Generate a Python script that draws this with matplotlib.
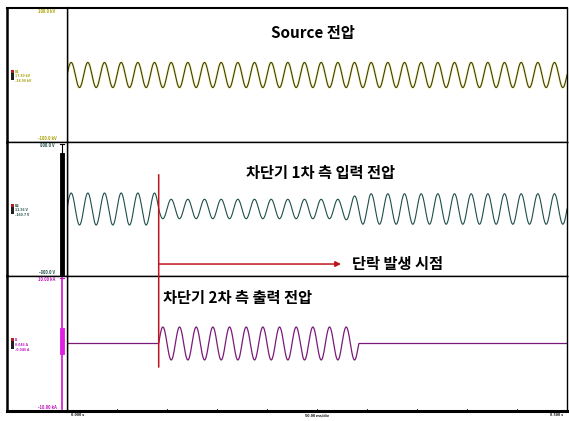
import numpy as np
import matplotlib
matplotlib.use("Agg")
import matplotlib.pyplot as plt
from matplotlib.patches import ConnectionPatch

plt.rcParams['font.family'] = ['Noto Sans CJK KR', 'DejaVu Sans']

# 파형 데이터 (60 Hz, 0 ~ 0.5 s)
freq = 60.0
t_end = 0.5
t_fault = 0.0917      # 단락 발생 시점 [s]
t_open = 0.2917       # 차단기 개방 시점 [s]

src_peak = 18.7       # Source 전압 피크 [kV]
in_env_t = [0.0, t_fault, t_fault, 0.275, 0.296, t_end]   # 1차 측 입력 전압 포락선 [s]
in_env_v = [191.0, 191.0, 116.0, 116.0, 182.0, 182.0]      # [V]
out_peak = 2.44       # 2차 측 출력 피크 [kA]

panel_titles = ["Source 전압", "차단기 1차 측 입력 전압", "차단기 2차 측 출력 전압"]
fault_label = "단락 발생 시점"
scale_top = ["100.0 kV", "800.0 V", "10.00 kA"]
scale_bot = ["-100.0 kV", "-800.0 V", "-10.00 kA"]
ylims = [100.0, 800.0, 10.0]
meas_text = [["B1", "17.89 kV", "-18.90 kV"],
             ["B2", "11.56 V", "-160.7 V"],
             ["I1", "0.046 A", "-0.046 A"]]
time_labels = ["0.000 s", "50.00 ms/div", "0.500 s"]

W, H = 569, 421


def box(x0, y0, x1, y1):
    return [x0 / W, 1 - y1 / H, (x1 - x0) / W, (y1 - y0) / H]


t = np.linspace(0, t_end, 6000)
w = 2 * np.pi * freq
v_src = src_peak * np.sin(w * t)
v_in = np.interp(t, in_env_t, in_env_v) * np.sin(w * t)
i_out = np.where((t >= t_fault) & (t <= t_open), out_peak * np.sin(w * (t - t_fault)), 0.0)

fig = plt.figure(figsize=(W / 100, H / 100), dpi=100)

rows = [(8, 142), (142, 276), (276, 411)]
axes = []
laxes = []
for (y0, y1), lim in zip(rows, ylims):
    ax = fig.add_axes(box(67, y0, 567, y1))
    ax.set_xlim(0, t_end)
    ax.set_ylim(-lim, lim)
    ax.set_xticks([])
    ax.set_yticks([])
    for s in ax.spines.values():
        s.set_linewidth(1.0)
    axes.append(ax)
    lax = fig.add_axes(box(7, y0, 67, y1))
    lax.set_xlim(0, 60)
    lax.set_ylim(-lim, lim)
    lax.set_xticks([])
    lax.set_yticks([])
    for s in lax.spines.values():
        s.set_linewidth(1.0)
    lax.spines['left'].set_linewidth(1.8)
    laxes.append(lax)
laxes[2].spines['bottom'].set_linewidth(2.2)
axes[2].spines['bottom'].set_linewidth(2.2)
axes[0].spines['top'].set_linewidth(1.5)
laxes[0].spines['top'].set_linewidth(1.5)

ax1, ax2, ax3 = axes

# Source 전압 (노란 테두리)
ax1.plot(t, v_src, color='#f4f080', lw=2.0, alpha=0.55, solid_capstyle='round')
ax1.plot(t, v_src, color='#3c3c14', lw=0.8)
ax2.plot(t, v_in, color='#1e4e48', lw=0.8)
ax3.plot(t, i_out, color='#7a1a78', lw=0.9)

title_kw = dict(fontsize=11, fontweight='bold', color='black')
ax1.text(0.246, 62.7, panel_titles[0], ha='center', va='center', **title_kw)
ax2.text(0.254, 430, panel_titles[1], ha='center', va='center', **title_kw)
ax3.text(0.096, 6.74, panel_titles[2], ha='left', va='center', **title_kw)

# 단락 발생 시점 표시
red = '#c0141c'
con = ConnectionPatch(xyA=(t_fault, 410), coordsA=ax2.transData,
                      xyB=(t_fault, -3.5), coordsB=ax3.transData,
                      color=red, lw=1.1)
fig.add_artist(con)
ax2.annotate('', xy=(0.274, -657), xytext=(t_fault, -657),
             arrowprops=dict(arrowstyle='-|>', color=red, lw=1.1,
                             mutation_scale=8, shrinkA=0, shrinkB=0))
ax2.text(0.285, -657, fault_label, ha='left', va='center', **title_kw)

# 좌측 스케일 영역
scale_cols = ['#a8a000', '#1e4e48', '#c010c0']
for lax, lim, top, bot, col, meas in zip(laxes, ylims, scale_top, scale_bot, scale_cols, meas_text):
    lax.text(40, lim * 0.95, top, fontsize=3, fontweight='bold', color=col, ha='center', va='center')
    lax.text(40, -lim * 0.95, bot, fontsize=3, fontweight='bold', color=col, ha='center', va='center')
    lax.bar(5, lim * 0.16, width=3, bottom=-lim * 0.08, color='#202020')
    lax.bar(5, lim * 0.05, width=3, bottom=lim * 0.03, color='#b02020')
    for k, s in enumerate(meas):
        lax.text(8, lim * (0.05 - 0.07 * k), s, fontsize=2.6, fontweight='bold',
                 color=col, ha='left', va='center')

# 1차 측 스케일 바
laxes[1].plot([55, 55], [-780, 780], color='black', lw=0.8)
laxes[1].plot([55, 55], [-760, 640], color='black', lw=3.5)
laxes[1].plot([53, 57], [780, 780], color='black', lw=0.8)
# 2차 측 스케일 바
laxes[2].plot([55, 55], [-9.7, 9.7], color='#d010d0', lw=1.2)
laxes[2].plot([55, 55], [-1.2, 2.0], color='#e020e0', lw=3.5)
laxes[2].plot([53, 57], [9.7, 9.7], color='#d010d0', lw=0.8)

# 시간축
for k in range(1, 10):
    ax3.plot([k * 0.05, k * 0.05], [-10, -9.75], color='black', lw=0.6, clip_on=False)
ax3.text(0.004, -10.3, time_labels[0], fontsize=2.8, fontweight='bold', ha='left', va='top')
ax3.text(0.25, -10.3, time_labels[1], fontsize=2.8, fontweight='bold', ha='center', va='top')
ax3.text(0.496, -10.3, time_labels[2], fontsize=2.8, fontweight='bold', ha='right', va='top')

fig.savefig('out.png', dpi=100)
